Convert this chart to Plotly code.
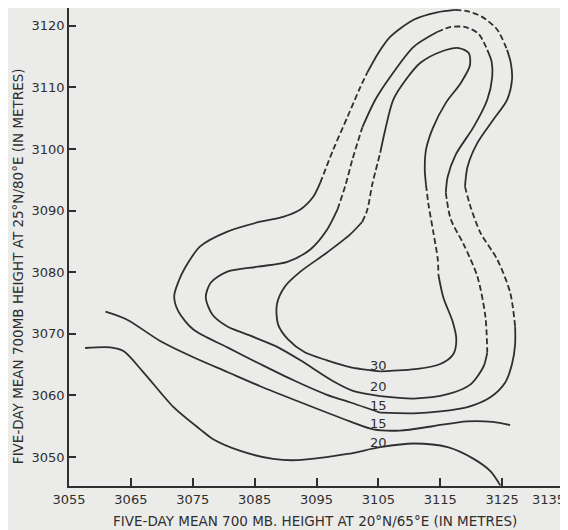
import plotly.graph_objects as go

# ---------------- data ----------------
X_TICKS = [3055, 3065, 3075, 3085, 3095, 3105, 3115, 3125, 3135]
Y_TICKS = [3050, 3060, 3070, 3080, 3090, 3100, 3110, 3120]

# lower "20" isoline (open)
A_X = [3057.6, 3061.7, 3063.8, 3067.0, 3071.9, 3076.2, 3078.3, 3082.7, 3088.0, 3091.9,
       3100.0, 3105.3, 3110.7, 3116.2, 3120.4, 3123.1, 3124.7]
A_Y = [3067.7, 3067.8, 3067.2, 3063.8, 3058.1, 3054.5, 3052.9, 3051.0, 3049.7, 3049.5,
       3050.5, 3051.6, 3052.2, 3051.6, 3049.7, 3047.7, 3045.4]
A_STYLE = "SSSSSSSSSSSSSSSS"

# lower "15" isoline (open)
B_X = [3060.9, 3064.4, 3069.8, 3075.1, 3080.6, 3085.9, 3092.4, 3100.4, 3104.2, 3108.5,
       3113.8, 3119.3, 3123.5, 3126.3]
B_Y = [3073.6, 3072.3, 3068.8, 3066.2, 3063.8, 3061.5, 3058.9, 3055.8, 3054.5, 3054.3,
       3055.0, 3055.8, 3055.7, 3055.2]
B_STYLE = "SSSSSSSSSSSSS"

# upper "15" isoline (closed, outermost loop)
C_X = [3105.3, 3100.4, 3096.7, 3091.2, 3085.9, 3080.6, 3075.1, 3072.7, 3072.0, 3072.7,
       3073.8, 3076.2, 3080.6, 3085.9, 3089.6, 3092.4, 3094.5, 3095.6, 3097.7, 3100.0,
       3102.1, 3103.2, 3105.0, 3106.9, 3110.7, 3114.5, 3117.4, 3119.3, 3121.7, 3124.2,
       3125.8, 3126.4, 3126.6, 3125.8, 3123.6, 3121.0, 3119.4, 3119.0, 3119.9, 3121.5,
       3124.2, 3126.3, 3127.1, 3127.1, 3126.6, 3125.5, 3123.1, 3119.4, 3115.0, 3110.7,
       3105.3]
C_Y = [3057.2, 3058.9, 3060.1, 3062.5, 3065.1, 3067.8, 3070.7, 3073.6, 3076.1, 3078.5,
       3080.8, 3084.2, 3086.6, 3088.2, 3089.0, 3090.2, 3092.3, 3094.5, 3099.9, 3105.2,
       3110.1, 3112.4, 3115.6, 3118.2, 3121.0, 3122.2, 3122.6, 3122.4, 3121.5, 3119.4,
       3116.1, 3114.0, 3111.3, 3108.0, 3104.8, 3101.0, 3097.1, 3093.9, 3090.6, 3086.4,
       3082.1, 3076.7, 3071.2, 3068.3, 3065.1, 3062.1, 3059.7, 3058.1, 3057.4, 3057.1,
       3057.2]
C_STYLE = "SSSSSSSSSSSSSSSSSDDDDSSSSSDDDDSSSSSSSDDDDDSSSSSSSS"

# upper "20" isoline (closed, middle loop)
D_X = [3105.3, 3101.0, 3097.7, 3092.4, 3088.4, 3084.3, 3080.6, 3078.2, 3077.1, 3077.9,
       3080.6, 3085.5, 3090.3, 3094.0, 3096.7, 3098.4, 3099.7, 3100.8, 3102.4, 3104.5,
       3106.9, 3110.7, 3114.5, 3116.6, 3119.1, 3121.2, 3122.6, 3123.3, 3123.4, 3122.6,
       3120.4, 3117.5, 3116.2, 3115.9, 3116.7, 3118.8, 3121.0, 3122.3, 3122.6, 3122.0,
       3119.9, 3116.2, 3110.7, 3105.3]
D_Y = [3059.9, 3060.7, 3062.3, 3065.7, 3068.0, 3069.7, 3071.2, 3073.1, 3075.9, 3078.3,
       3080.1, 3080.9, 3081.7, 3083.7, 3086.9, 3090.2, 3094.2, 3098.3, 3103.5, 3108.0,
       3111.7, 3116.6, 3119.0, 3119.8, 3119.8, 3118.7, 3116.1, 3114.2, 3111.7, 3108.0,
       3103.6, 3099.1, 3095.5, 3092.9, 3088.6, 3084.5, 3079.3, 3072.8, 3067.0, 3064.7,
       3061.8, 3060.2, 3059.5, 3059.9]
D_STYLE = "SSSSSSSSSSSSSSSDDDSSSSDDDDSSSSSSSDDDDDSSSSS"

# "30" isoline (closed, innermost loop)
E_X = [3105.3, 3100.4, 3096.7, 3093.1, 3090.4, 3088.8, 3088.6, 3089.9, 3092.4, 3096.7,
       3100.4, 3102.4, 3103.2, 3104.0, 3105.3, 3106.1, 3107.4, 3109.4, 3111.8, 3115.1,
       3118.0, 3119.6, 3119.8, 3118.3, 3115.9, 3113.8, 3112.7, 3112.5, 3112.7, 3113.1,
       3113.9, 3114.6, 3114.7, 3115.5, 3117.0, 3117.6, 3117.1, 3115.0, 3111.3, 3105.3]
E_Y = [3063.9, 3064.6, 3065.7, 3067.0, 3069.1, 3071.5, 3074.8, 3077.7, 3080.1, 3083.2,
       3086.1, 3088.2, 3090.1, 3094.2, 3099.4, 3103.1, 3108.0, 3111.2, 3114.0, 3115.8,
       3116.4, 3115.6, 3113.6, 3110.7, 3107.5, 3103.4, 3099.9, 3096.7, 3094.2, 3091.0,
       3086.4, 3082.1, 3079.6, 3075.9, 3072.0, 3069.1, 3066.7, 3065.1, 3064.3, 3063.9]
E_STYLE = "SSSSSSSSSSSDDDSSSSSSSSSSSSSSDDDDSSSSSSS"

LABEL_TEXT = ["30", "20", "15", "15", "20"]
LABEL_X = [3105.0, 3105.0, 3105.0, 3105.0, 3105.0]
LABEL_Y = [3064.9, 3061.5, 3058.4, 3055.5, 3052.4]

X_TITLE = "FIVE-DAY MEAN 700 MB. HEIGHT AT 20°N/65°E (IN METRES)"
Y_TITLE = "FIVE-DAY MEAN 700MB HEIGHT AT 25°N/80°E (IN METRES)"

# ---------------- style ----------------
INK = "#2f2f2f"
BG = "#ebebe9"
FONT = "DejaVu Sans"


def pieces(xs, ys, style):
    out = []
    start = 0
    for i in range(1, len(style) + 1):
        if i == len(style) or style[i] != style[start]:
            out.append((style[start], xs[start:i + 1], ys[start:i + 1]))
            start = i
    return out


fig = go.Figure()
for xs, ys, st in [(A_X, A_Y, A_STYLE), (B_X, B_Y, B_STYLE), (C_X, C_Y, C_STYLE),
                   (D_X, D_Y, D_STYLE), (E_X, E_Y, E_STYLE)]:
    for kind, px, py in pieces(xs, ys, st):
        fig.add_trace(go.Scatter(
            x=px, y=py, mode="lines",
            line=dict(color=INK, width=1.8, shape="spline", smoothing=0.8,
                      dash="solid" if kind == "S" else "6px,3px"),
            hoverinfo="skip", showlegend=False))

for t, x, y in zip(LABEL_TEXT, LABEL_X, LABEL_Y):
    fig.add_annotation(x=x, y=y, text=t, showarrow=False, xanchor="center", yanchor="middle",
                       font=dict(family=FONT, size=13, color=INK))

x_ticktext = [str(v) for v in X_TICKS[:-1]] + [""]
fig.add_annotation(x=X_TICKS[-1], y=0, xref="x", yref="paper", text=str(X_TICKS[-1]),
                   showarrow=False, xanchor="right", yanchor="top", xshift=3, yshift=-4,
                   font=dict(family=FONT, size=13, color=INK))

fig.add_annotation(x=0.497, y=-0.073, xref="paper", yref="paper", text=X_TITLE,
                   showarrow=False, xanchor="center", yanchor="middle",
                   font=dict(family=FONT, size=13.5, color=INK))
fig.add_annotation(x=-0.103, y=0.46, xref="paper", yref="paper", text=Y_TITLE,
                   showarrow=False, textangle=-90, xanchor="center", yanchor="middle",
                   font=dict(family=FONT, size=13.5, color=INK))

fig.update_layout(
    width=560, height=522,
    margin=dict(l=61, r=4, t=0, b=44),
    paper_bgcolor=BG, plot_bgcolor=BG,
    xaxis=dict(range=[3055, 3135], tickvals=X_TICKS, ticktext=x_ticktext,
               ticks="inside", ticklen=8, tickwidth=1.5, tickcolor=INK,
               showline=True, linecolor=INK, linewidth=1.8,
               showgrid=False, zeroline=False,
               tickfont=dict(family=FONT, size=13, color=INK)),
    yaxis=dict(range=[3045.3, 3122.9], tickvals=Y_TICKS,
               ticks="inside", ticklen=7, tickwidth=1.5, tickcolor=INK,
               showline=True, linecolor=INK, linewidth=1.8,
               showgrid=False, zeroline=False,
               tickfont=dict(family=FONT, size=13, color=INK)),
)

fig.write_html("out.html")
